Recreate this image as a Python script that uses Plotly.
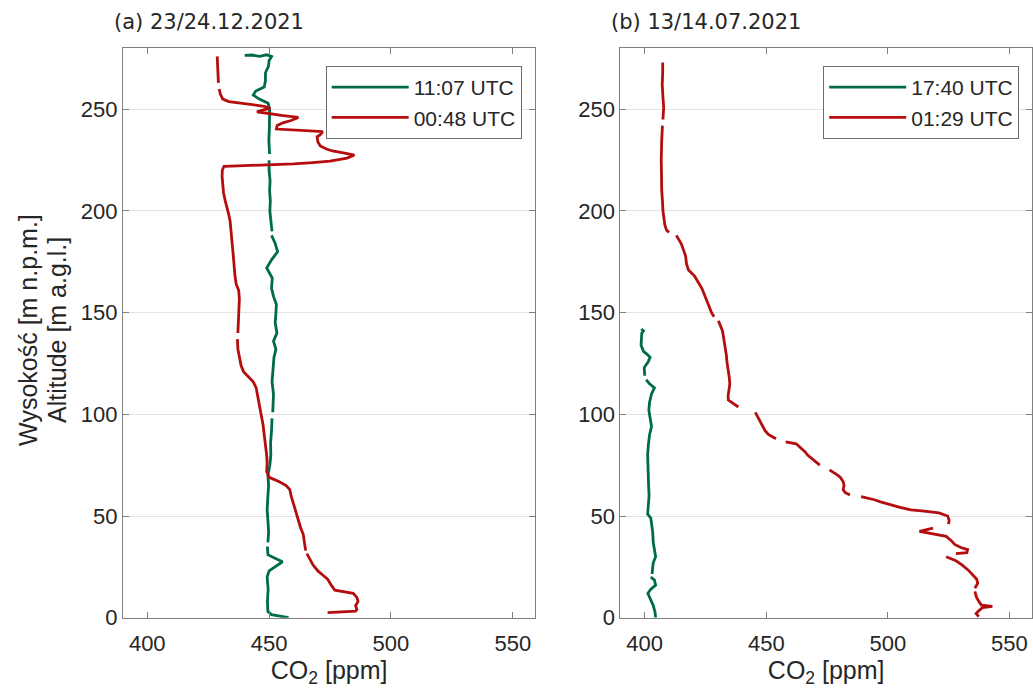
import plotly.graph_objects as go

# ---------------- data ----------------
# (a) 23/24.12.2021  — 11:07 UTC (green)
a_day_co2 = [458, 455, 451, 449.5, 449.3, 449.6, 449.2, 450, 453, 455.5, 452, 449.5, 449.3, None,
             449.5, 449.8, 449.5, 449.2, 449.5, 449.8, 449.5, 450.3, 450.7, 450.6, 451, 451.2, None,
             451.5, 451.8, 451.2, 451.6, 452, 452.8, 451.8, 453.2, 452.5, 452.8, 453, 451.8, 451,
             451.3, 449, 451, 453.5, 452.5, 451, None, 451.2, 450.8, 450.3, 450.5, 450.2, 450.4, 450,
             450, None, 450.2, 449.9, 450.1, 450, 450.2, 449.6, 446, 443.5, 444.5, 448, 448.5, 448.5,
             449.7, 450, 451, 449, 446, 443, 440]
a_day_alt = [0, 0.8, 1.5, 3, 8, 14, 20, 23, 25.5, 27.5, 29.5, 31, 35, None,
             37, 42, 48, 53, 60, 65, 70, 75, 80, 86, 92, 98, None,
             101, 110, 116, 122, 128, 132, 136, 140, 145, 150, 154, 158, 162,
             167, 172, 176, 180, 184, 188, None, 190, 196, 200, 205, 210, 215, 220,
             225, None, 228, 235, 240, 245, 250, 253, 255, 257, 259, 261, 264, 268,
             271, 274, 276, 276.8, 276, 276.7, 276.5]

# (a) 00:48 UTC (red)
a_night_co2 = [474, 480, 485.5, 486, 485.5, 486.5, 486, 484.5, 480, 477, 475.5, 474, 472, 470, 468,
               466.5, 465.5, None, 465, 464.5, 464, 463, 462, 461, 460.5, 459.5, 459, 458.5, 457,
               454, 450, 449, 449.2, 449, 448.5, 448.2, 447.5, 446.7, 446, 445.3, 444.7, 443.5, 441.8,
               439.5, 438.5, 437.8, 437.2, 437, None, 437.2, 437.5, 437.6, 437.8, 437.5, 436.5, 436,
               435.8, 435.3, 435, 434.6, 434.4, 434, 433.5, 432.8, 432, 431.3, 431, 430.7, 430.8,
               431.5, 440, 450, 460, 468, 475, 482, 485, 481, 476, 473.5, 471, 470, 469.7, 471, 472,
               465, 458, 453, 453.3, 456, 459, 462, 455, 449, 445, 448, 450.5, 448, 443, 438, 433.5,
               431, 430, 429.5, None, 429.2, 429, 428.8, 428.7]
a_night_alt = [2.5, 2.8, 3.2, 4, 6, 8, 10, 12, 12.8, 13.5, 16, 19, 21, 23, 26,
               29, 31.5, None, 33, 38, 41, 44, 48, 51, 54, 57, 60, 63, 65,
               67, 69, 72, 76, 80, 85, 90, 95, 100, 105, 110, 113, 116, 118,
               121, 124, 128, 132, 137, None, 140, 147, 152, 157, 161, 164, 168,
               173, 178, 182, 187, 191, 195, 198, 201, 205, 209, 213, 217, 220,
               222, 222.3, 222.6, 223.2, 223.8, 224.5, 226, 227.5, 228.5, 229.5, 230.5, 232, 234, 236.5, 237.5, 239,
               239.5, 240, 240.3, 242, 243.5, 244.5, 246, 247, 248, 248.8, 249.8, 250.5, 251.5, 252.3, 253, 253.8,
               255, 257.5, 260, None, 263, 268, 272, 276]

# (b) 13/14.07.2021 — 17:40 UTC (green)
b_day_co2 = [404.5, 404.2, 403.5, 402.5, 401.3, 402.5, 404.5, 404, 402.5, None, 403, 403.5, 404.5,
             404, 403.5, 403.3, 403, 402.5, 401.2, 401.5, 401.8, 401.6, 401.4, 401.5, 401.2, 401.5,
             402, 402.8, 402.2, 401.7, 402, 402.8, 404, 402, 400.6, None, 400, 399.8, 401.5, 402.2,
             401, 399.5, 398.5, 398.6, 398.8, 399.5, 398.6]
b_day_alt = [0, 3, 6, 9, 12, 14, 16, 18.5, 20, None, 21.5, 27, 30,
             33, 37, 42, 46, 49, 51, 55, 60, 65, 70, 75, 80, 85,
             90, 94, 98, 102, 106, 110, 113, 115, 117, None, 119, 123, 126, 128,
             129.5, 131, 134, 137, 140, 141, 142]

# (b) 01:29 UTC (red)
b_night_co2 = [537.4, 536.3, 537.5, 539, 543, 538.5, 537.7, 536.5, 535.8, None, 535.8, 537, 536.5,
               535, 533, 530.5, 528, 524, None, 528, 532.5, 532.8, 530, 527.5, 526, 524, 519, 513,
               516, 518.6, None, 525, 525.2, 524.6, 521, 514, 509.5, 505, 501, 497, 494.5, 491, 489,
               None, 484.4, 482.5, 481.6, 482, 481.6, 480.5, 479.5, 477.5, 476, None, 472, 470, 468.4,
               467, 466, 464, 462.3, 458, None, 454, 451, 449.5, 448.2, 447, 445.5, None, 438.5, 436,
               434.4, 434.3, 434.6, 435, 434.8, 434.2, 433.8, 433.6, 433, 432.5, 432, 431, 430.3,
               None, 428.5, 427.5, 426.5, 425.5, 425, 423.5, 422, 420.5, 418, 417.2, 416.8, 416, 415,
               413, None, 410, 409, 408.3, 407.8, 407.5, 407.3, 407, 406.9, 406.8, 407, 407.3, None,
               407.5, 407.8, 407.5, 407.2, 407.4, 407.4]
b_night_alt = [0.5, 2, 3.5, 5, 5.6, 6.2, 7.5, 10, 13, None, 14.5, 17, 19,
               21, 23.5, 26, 28, 30, None, 31.5, 32, 33.5, 34.5, 36, 38, 40, 41, 42.5,
               43.3, 44, None, 46, 48, 50, 51.5, 52.5, 53, 54.3, 55.5, 57, 58, 59, 59.5,
               None, 60.4, 61.5, 63, 65, 67, 69, 70, 71.5, 72.7, None, 75, 77, 78.6,
               80, 81.5, 83.5, 85.5, 86.5, None, 88, 90, 92, 95, 98, 101, None, 103.6, 105.5,
               107, 109, 112, 115, 118, 122, 126, 129, 133, 137, 141, 144, 146,
               None, 148, 150, 153, 156, 158, 162, 165, 168, 171, 174, 178, 181, 184,
               188, None, 189.5, 190.5, 193, 197, 200, 205, 210, 218, 225, 235, 242, None,
               245, 251, 256, 262, 268, 273]

labels_a = ["11:07 UTC", "00:48 UTC"]
labels_b = ["17:40 UTC", "01:29 UTC"]
panel_titles = ["(a) 23/24.12.2021", "(b) 13/14.07.2021"]
y_title_lines = ["Wysokość [m n.p.m.]", "Altitude [m a.g.l.]"]
x_ticks = [400, 450, 500, 550]
y_ticks = [0, 50, 100, 150, 200, 250]

GREEN = "#006b4c"
RED = "#b50d0d"
AXC = "#808080"
TXT = "#262626"
FONT = "Liberation Sans, Arial, sans-serif"
LW = 2.8
HV = 675.0  # effective rendered height used for vertical placement

fig = go.Figure()
fig.add_trace(go.Scatter(x=a_day_co2, y=a_day_alt, mode="lines", name=labels_a[0],
                         line=dict(color=GREEN, width=LW), xaxis="x", yaxis="y", legend="legend"))
fig.add_trace(go.Scatter(x=a_night_co2, y=a_night_alt, mode="lines", name=labels_a[1],
                         line=dict(color=RED, width=LW), xaxis="x", yaxis="y", legend="legend"))
fig.add_trace(go.Scatter(x=b_day_co2, y=b_day_alt, mode="lines", name=labels_b[0],
                         line=dict(color=GREEN, width=LW), xaxis="x2", yaxis="y2", legend="legend2"))
fig.add_trace(go.Scatter(x=b_night_co2, y=b_night_alt, mode="lines", name=labels_b[1],
                         line=dict(color=RED, width=LW), xaxis="x2", yaxis="y2", legend="legend2"))

ydom = [1 - 617.7 / HV, 1 - 48.3 / HV]
common_x = dict(range=[390, 559.3], tickvals=x_ticks, showgrid=False, zeroline=False,
                showline=True, linecolor=AXC, linewidth=1, mirror="ticks",
                ticks="inside", ticklen=6, tickcolor=AXC, ticklabelstandoff=6,
                tickfont=dict(family=FONT, size=22, color=TXT),
                title=dict(text="CO<sub>2</sub> [ppm]", font=dict(family=FONT, size=25, color=TXT),
                           standoff=12))
common_y = dict(range=[0, 280], tickvals=y_ticks, showgrid=True, gridcolor="#e3e3e3", gridwidth=1,
                zeroline=False, showline=True, linecolor=AXC, linewidth=1, mirror="ticks",
                ticks="inside", ticklen=6, tickcolor=AXC, domain=ydom,
                tickfont=dict(family=FONT, size=22, color=TXT))

legend_common = dict(xanchor="left", yanchor="top", bgcolor="white", bordercolor="#6e6e6e",
                     borderwidth=1, font=dict(family=FONT, size=21, color=TXT),
                     itemwidth=77, tracegroupgap=0)

title_font = dict(family="DejaVu Sans, Verdana, sans-serif", size=21, color=TXT)
ytitle_font = dict(family=FONT, size=25, color=TXT)

fig.update_layout(
    width=1033, height=688,
    margin=dict(l=0, r=0, t=0, b=0),
    paper_bgcolor="white", plot_bgcolor="white",
    xaxis=dict(domain=[123 / 1033, 536 / 1033], anchor="y", **common_x),
    yaxis=dict(anchor="x", **common_y),
    xaxis2=dict(domain=[621 / 1033, 1.0], anchor="y2", **common_x),
    yaxis2=dict(anchor="x2", **common_y),
    legend=dict(x=326 / 1033, y=1 - 66 / HV, **legend_common),
    legend2=dict(x=824 / 1033, y=1 - 66 / HV, **legend_common),
    showlegend=True,
    annotations=[
        dict(text=panel_titles[0], xref="paper", yref="paper", x=112 / 1033, y=1 - 22 / HV,
             xanchor="left", yanchor="middle", showarrow=False, font=title_font),
        dict(text=panel_titles[1], xref="paper", yref="paper", x=610 / 1033, y=1 - 22 / HV,
             xanchor="left", yanchor="middle", showarrow=False, font=title_font),
        dict(text=y_title_lines[0], xref="paper", yref="paper",
             x=28 / 1033, y=1 - 330 / HV, xanchor="center", yanchor="middle",
             textangle=-90, showarrow=False, font=ytitle_font),
        dict(text=y_title_lines[1], xref="paper", yref="paper",
             x=57 / 1033, y=1 - 330 / HV, xanchor="center", yanchor="middle",
             textangle=-90, showarrow=False, font=ytitle_font),
    ],
)

fig.write_html("out.html", config={"displayModeBar": False},
               post_script="document.body.style.margin='0';document.body.style.overflow='hidden';")
